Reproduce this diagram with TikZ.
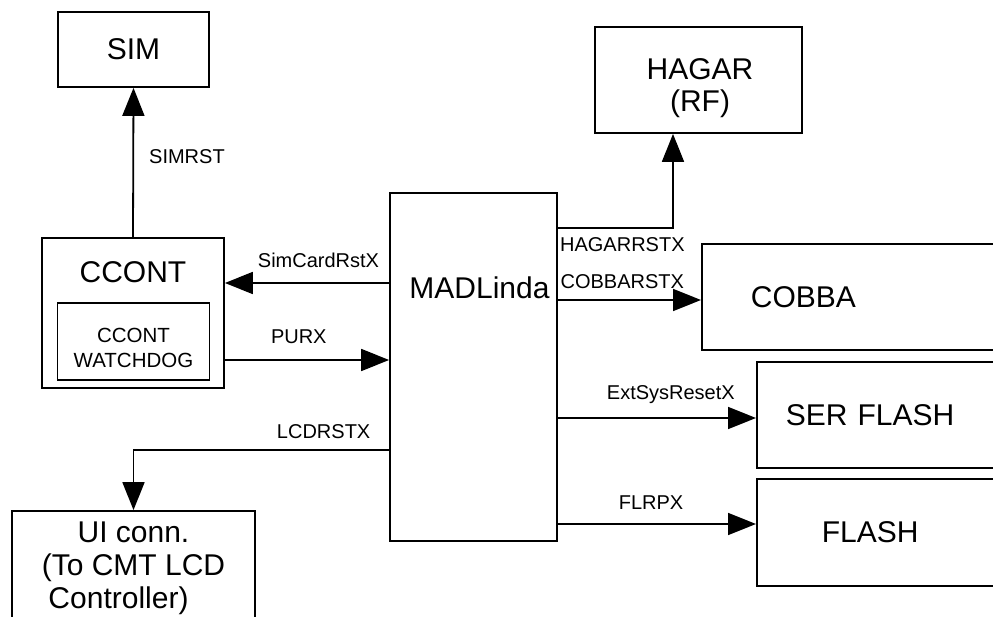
\documentclass[tikz,border=0pt]{standalone}
\usepackage{fontspec}
\setmainfont{Liberation Sans}
\usetikzlibrary{arrows.meta}

\begin{document}
\begin{tikzpicture}[x=1pt,y=-1pt,line width=1.8pt,
>={Triangle[length=28pt,width=22pt]},
block/.style={draw,rectangle,inner sep=0pt,line width=1.8pt,align=center,font=\fontsize{30}{33}\selectfont},
sideblock/.style={block,anchor=west,text width=300pt,align=left},
bigtext/.style={inner sep=0pt,align=center,font=\fontsize{30}{32}\selectfont},
sig/.style={inner sep=0pt,font=\fontsize{20}{24}\selectfont}]

\useasboundingbox (0,0) rectangle (993,617);
\clip (0,0) rectangle (993,617);

\draw (133.5,49.5) node[block,minimum width=151,minimum height=75] (sim) {SIM};
\draw (133,313) node[block,minimum width=182,minimum height=150] (ccont) {};
\draw (133,272) node[bigtext] (ccontlbl) {CCONT};
\draw (133.5,341.5) node[block,minimum width=152,minimum height=77] (wdog) {};
\draw (133.5,348) node[bigtext,font=\fontsize{20.5}{25}\selectfont] (wdoglbl) {CCONT\\WATCHDOG};
\draw (473.5,367) node[block,minimum width=167,minimum height=348] (mad) {};
\draw (479.5,288) node[bigtext] (madlbl) {MADLinda};
\draw (133.5,568) node[block,minimum width=243,minimum height=114] (ui) {UI conn.\\(To CMT LCD\\\hspace*{-30pt}Controller)};
\draw (698.5,80) node[block,minimum width=207,minimum height=106] (hagar) {};
\draw (700,88) node[bigtext] (hagarlbl) {HAGAR\\(RF)};
\draw (701,297) node[sideblock,minimum height=106,inner xsep=49pt] (cobba) {COBBA};
\draw (756,415) node[sideblock,minimum height=106,inner xsep=29pt] (ser) {SER FLASH};
\draw (756,532.5) node[sideblock,minimum height=107,inner xsep=65pt] (flash) {FLASH};

\draw[->] (ccont.north) -- (sim.south) node[sig,pos=0.54,anchor=west,xshift=15pt] {SIMRST};
\draw[->] (mad.west |- 0,283) -- (ccont.east |- 0,283) node[sig,pos=0.43,above=14pt] {SimCardRstX};
\draw[->] (ccont.east |- 0,360) -- (mad.west |- 0,360) node[sig,pos=0.45,above=15pt] {PURX};
\draw[->] (mad.west |- 0,450) -| (ui.north) node[sig,pos=0.128,above=10pt] {LCDRSTX};
\draw[->] (mad.east |- 0,228) -| ([xshift=-25.5pt]hagar.south) node[sig,pos=0.28,below=9pt] {HAGARRSTX};
\draw[->] (mad.east |- 0,300) -- (cobba.west |- 0,300) node[sig,pos=0.45,above=10pt] {COBBARSTX};
\draw[->] (mad.east |- 0,418) -- (ser.west |- 0,418) node[sig,pos=0.57,above=13pt] {ExtSysResetX};
\draw[->] (mad.east |- 0,524) -- (flash.west |- 0,524) node[sig,pos=0.47,above=14pt] {FLRPX};
\end{tikzpicture}
\end{document}
